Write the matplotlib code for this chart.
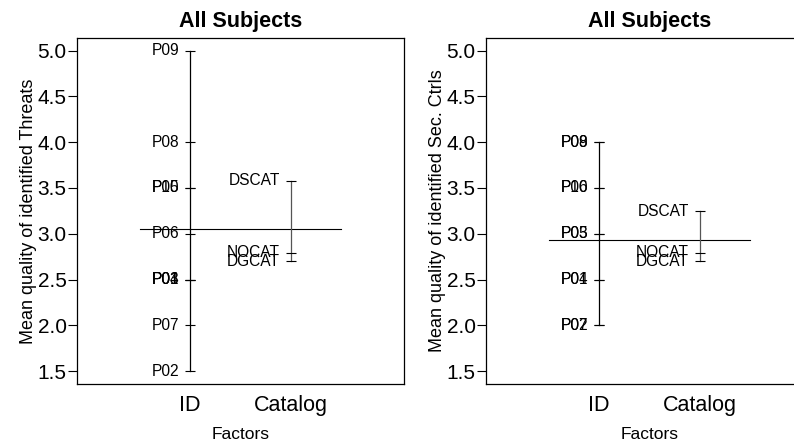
import matplotlib
matplotlib.use("Agg")
import matplotlib.pyplot as plt

plt.rcParams['font.family'] = ['Liberation Sans', 'DejaVu Sans']

factors = ["ID", "Catalog"]

# Panel 1: Threats
threats_ids = ["P09", "P08", "P05", "P10", "P06", "P01", "P03", "P04", "P07", "P02"]
threats_id_means = [5.0, 4.0, 3.5, 3.5, 3.0, 2.5, 2.5, 2.5, 2.0, 1.5]
threats_cats = ["DSCAT", "NOCAT", "DGCAT"]
threats_cat_means = [3.58, 2.79, 2.70]
threats_grand = 3.056

# Panel 2: Security controls
ctrls_ids = ["P09", "P08", "P10", "P06", "P05", "P03", "P04", "P01", "P02", "P07"]
ctrls_id_means = [4.0, 4.0, 3.5, 3.5, 3.0, 3.0, 2.5, 2.5, 2.0, 2.0]
ctrls_cats = ["DSCAT", "NOCAT", "DGCAT"]
ctrls_cat_means = [3.245, 2.79, 2.70]
ctrls_grand = 2.936

yticks = [1.5, 2.0, 2.5, 3.0, 3.5, 4.0, 4.5, 5.0]

W, H = 794, 444
fig = plt.figure(figsize=(W / 100, H / 100), dpi=100)

def px_axes(left, top, right, bottom):
    return fig.add_axes([left / W, 1 - bottom / H, (right - left) / W, (bottom - top) / H])

def draw_panel(ax, ids, id_means, cats, cat_means, grand, ylabel):
    ax.set_xlim(-0.12, 3.12)
    ax.set_ylim(1.36, 5.14)
    ax.plot([0.5, 2.5], [grand, grand], color='black', lw=0.8)
    groups = [(ids, id_means, 'black'), (cats, cat_means, '#555555')]
    for i, (labels, vals, col) in enumerate(groups):
        x = i + 1
        ax.plot([x, x], [min(vals), max(vals)], color=col, lw=0.9)
        for lab, v in zip(labels, vals):
            ax.plot([x], [v], marker='_', markersize=7.5, markeredgewidth=0.8,
                    color='black')
            ax.annotate(lab, (x, v), xytext=(-8, 0), textcoords='offset points',
                        ha='right', va='center', fontsize=11.2)
    ax.set_xticks([1, 2])
    ax.set_xticklabels(factors, fontsize=15.5)
    ax.tick_params(axis='x', length=0, pad=8)
    ax.set_yticks(yticks)
    ax.set_yticklabels([f"{t:.1f}" for t in yticks])
    ax.tick_params(axis='y', direction='out', length=6.5, width=0.8, labelsize=15, pad=1)
    for s in ax.spines.values():
        s.set_linewidth(0.9)
    ax.set_title("All Subjects", fontsize=15.5, fontweight='bold', pad=8)
    ax.set_xlabel("Factors", fontsize=12.5, labelpad=7.5)
    ax.set_ylabel(ylabel, fontsize=13, labelpad=0)

ax1 = px_axes(77, 37.7, 404, 384)
draw_panel(ax1, threats_ids, threats_id_means, threats_cats, threats_cat_means,
           threats_grand, "Mean quality of identified Threats")

ax2 = px_axes(486, 37.7, 813, 384)
draw_panel(ax2, ctrls_ids, ctrls_id_means, ctrls_cats, ctrls_cat_means,
           ctrls_grand, "Mean quality of identified Sec. Ctrls")

fig.savefig("out.png", dpi=100)
